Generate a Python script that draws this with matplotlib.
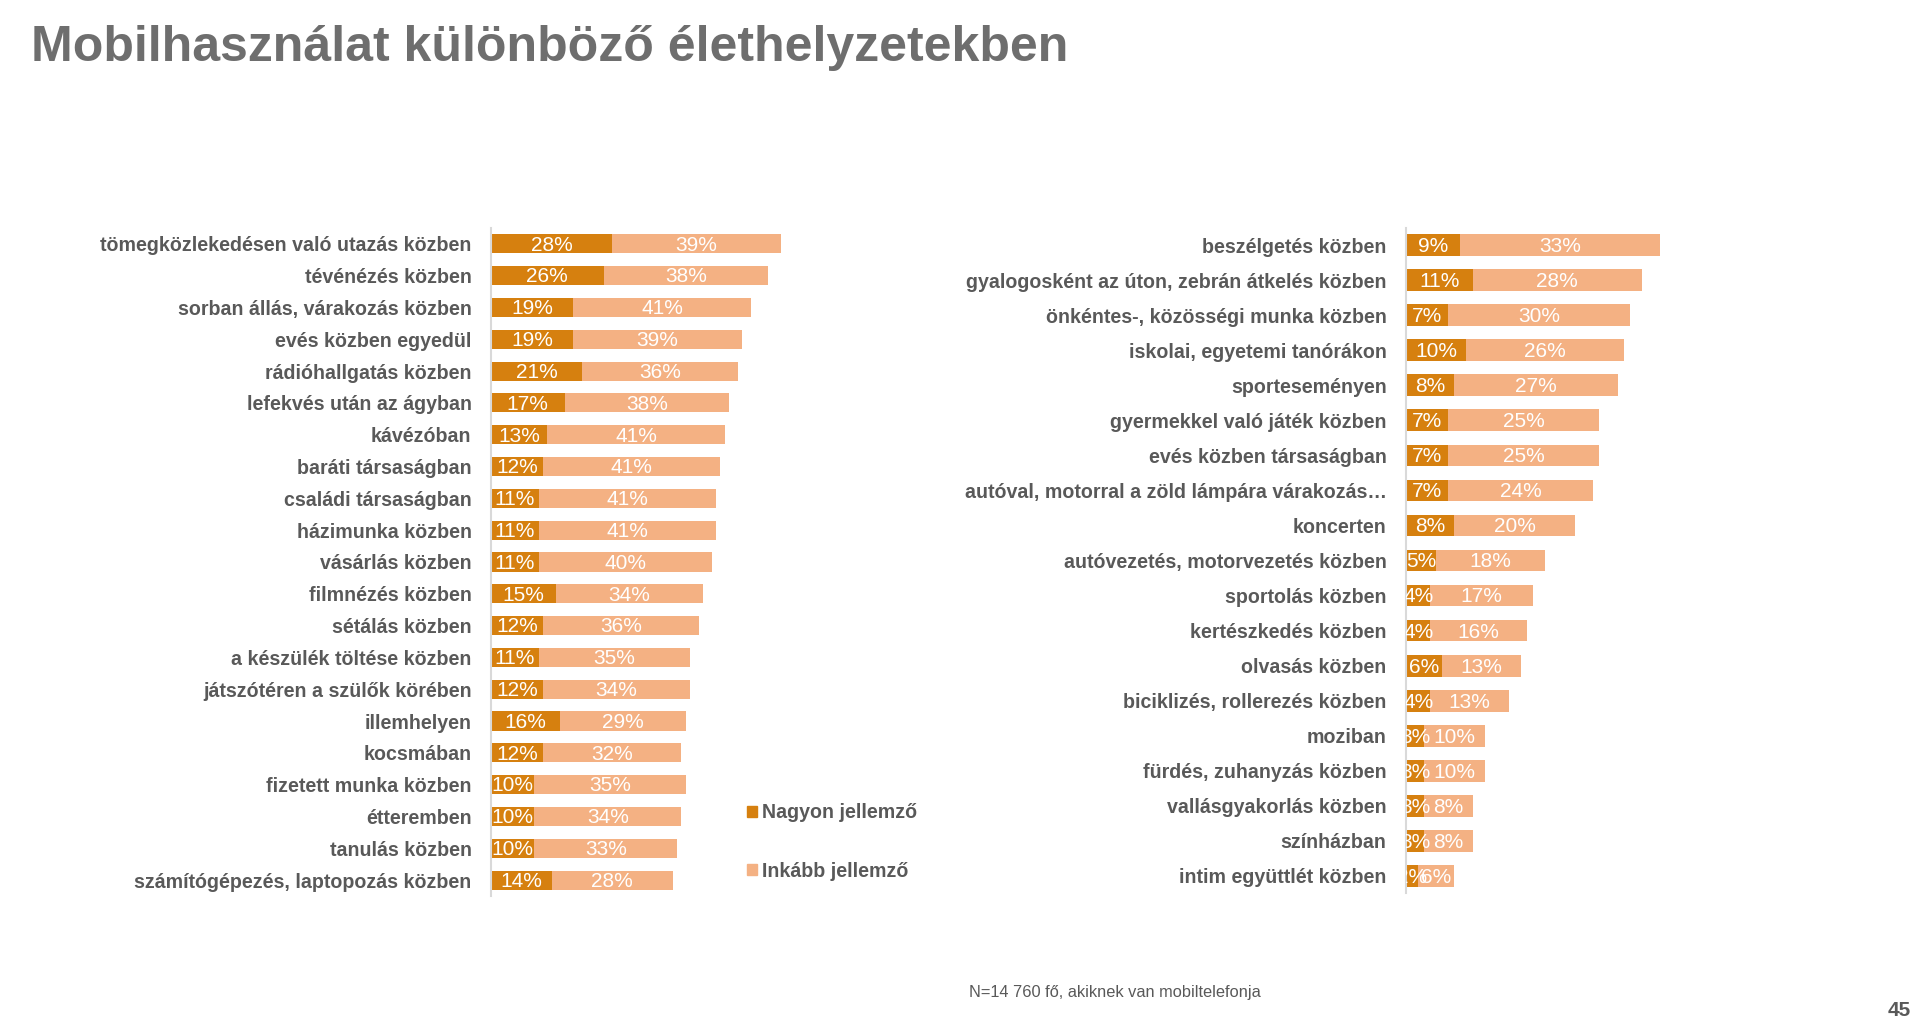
import matplotlib
matplotlib.use("Agg")
import matplotlib.pyplot as plt
from matplotlib.patches import Patch

plt.rcParams['font.family'] = ['Liberation Sans', 'DejaVu Sans']

# left block
left_cats = ['tömegközlekedésen való utazás közben', 'tévénézés közben',
             'sorban állás, várakozás közben', 'evés közben egyedül',
             'rádióhallgatás közben', 'lefekvés után az ágyban', 'kávézóban',
             'baráti társaságban', 'családi társaságban', 'házimunka közben',
             'vásárlás közben', 'filmnézés közben', 'sétálás közben',
             'a készülék töltése közben', 'játszótéren a szülők körében',
             'illemhelyen', 'kocsmában', 'fizetett munka közben', 'étteremben',
             'tanulás közben', 'számítógépezés, laptopozás közben']
left_strong = [28, 26, 19, 19, 21, 17, 13, 12, 11, 11, 11, 15, 12, 11, 12, 16, 12, 10, 10, 10, 14]
left_rather = [39, 38, 41, 39, 36, 38, 41, 41, 41, 41, 40, 34, 36, 35, 34, 29, 32, 35, 34, 33, 28]

# right block
right_cats = ['beszélgetés közben', 'gyalogosként az úton, zebrán átkelés közben',
              'önkéntes-, közösségi munka közben', 'iskolai, egyetemi tanórákon',
              'sporteseményen', 'gyermekkel való játék közben',
              'evés közben társaságban', 'autóval, motorral a zöld lámpára várakozás…',
              'koncerten', 'autóvezetés, motorvezetés közben', 'sportolás közben',
              'kertészkedés közben', 'olvasás közben', 'biciklizés, rollerezés közben',
              'moziban', 'fürdés, zuhanyzás közben', 'vallásgyakorlás közben',
              'színházban', 'intim együttlét közben']
right_strong = [9, 11, 7, 10, 8, 7, 7, 7, 8, 5, 4, 4, 6, 4, 3, 3, 3, 3, 2]
right_rather = [33, 28, 30, 26, 27, 25, 25, 24, 20, 18, 17, 16, 13, 13, 10, 10, 8, 8, 6]

series_names = ['Nagyon jellemző', 'Inkább jellemző']

dark = '#D6800F'
light = '#F4B183'
grey = '#595959'

fig = plt.figure(figsize=(19.24, 10.34), dpi=100)


def draw(ax, cats, strong, rather, height, xmax):
    y = list(range(len(cats)))
    ax.barh(y, strong, height=height, color=dark)
    ax.barh(y, rather, left=strong, height=height, color=light)
    for i in y:
        ax.text(strong[i] / 2, i + 0.04, f'{strong[i]}%', ha='center', va='center',
                color='white', fontsize=15, clip_on=True)
        ax.text(strong[i] + rather[i] / 2, i + 0.04, f'{rather[i]}%', ha='center',
                va='center', color='white', fontsize=15, clip_on=True)
    ax.set_xlim(0, xmax)
    ax.set_ylim(len(cats) - 0.5, -0.5)
    ax.set_yticks(y)
    ax.set_yticklabels(cats, fontsize=14.1, fontweight='bold', color=grey)
    ax.tick_params(axis='y', length=0, pad=14)
    ax.set_xticks([])
    for s in ['top', 'right', 'bottom']:
        ax.spines[s].set_visible(False)
    ax.spines['left'].set_color('#D9D9D9')
    ax.spines['left'].set_linewidth(1.5)


ax1 = fig.add_axes([0.2552, 0.1335, 0.1575, 0.646])
draw(ax1, left_cats, left_strong, left_rather, 0.6, 70)

ax2 = fig.add_axes([0.7308, 0.1359, 0.157, 0.644])
draw(ax2, right_cats, right_strong, right_rather, 0.62, 50)

handles = [Patch(color=dark, label=series_names[0]), Patch(color=light, label=series_names[1])]
leg = fig.legend(handles=handles, loc='upper left', bbox_to_anchor=(0.379, 0.24),
                 frameon=False, labelspacing=2.0, handlelength=0.5, handleheight=0.5,
                 handletextpad=0.3, prop={'size': 14.1, 'weight': 'bold'})
for t in leg.get_texts():
    t.set_color(grey)

fig.text(0.016, 0.941, 'Mobilhasználat különböző élethelyzetekben', fontsize=36,
         fontweight='bold', color='#6E6E6E', va='baseline')
fig.text(0.5036, 0.036, 'N=14 760 fő, akiknek van mobiltelefonja', fontsize=11.8,
         color=grey, va='baseline')
fig.text(0.993, 0.017, '45', fontsize=15, fontweight='bold', color=grey,
         ha='right', va='baseline')

fig.savefig('out.png', dpi=100)
